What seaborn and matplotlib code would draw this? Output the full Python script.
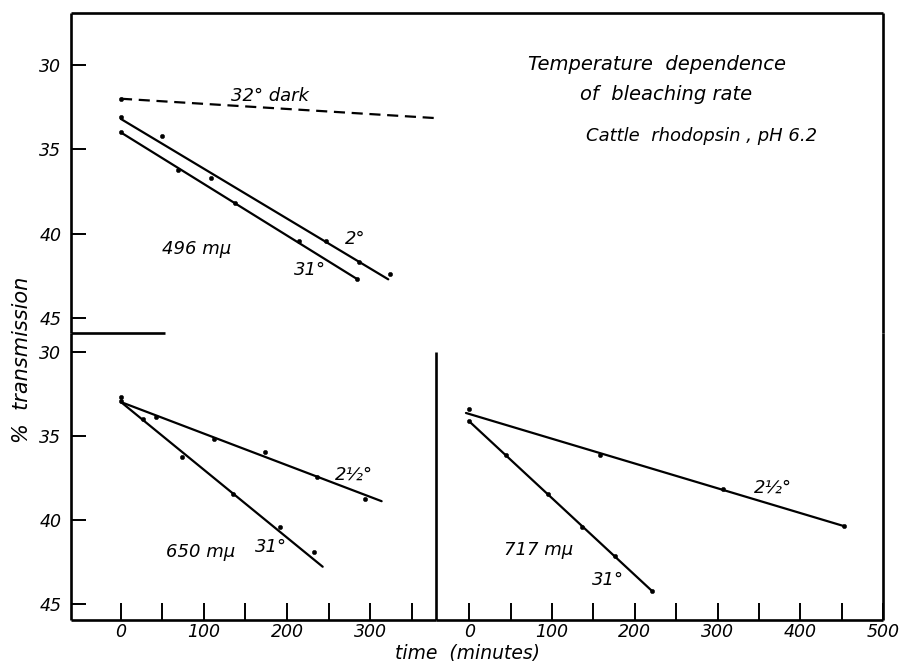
import numpy as np
import pandas as pd
import matplotlib
matplotlib.use("Agg")
import matplotlib.pyplot as plt
import seaborn as sns

# ---------------- data ----------------
# 496 mu (top panel)
top_2_t = [0, 49, 108, 247, 287, 324]
top_2_v = [33.1, 34.2, 36.7, 40.4, 41.7, 42.4]
top_2_fit_t = [0, 322]
top_2_fit_v = [33.2, 42.7]
top_31_t = [0, 69, 137, 214, 284]
top_31_v = [34.0, 36.2, 38.2, 40.4, 42.7]
top_31_fit_t = [0, 285]
top_31_fit_v = [34.0, 42.7]
dark_t = [0]
dark_v = [32.0]
dark_fit_t = [0, 380]
dark_fit_v = [32.0, 33.15]

# 650 mu (bottom left)
bl_25_t = [0, 0, 42, 112, 174, 236, 294]
bl_25_v = [32.7, 32.95, 33.9, 35.2, 35.95, 37.45, 38.75]
bl_25_fit_t = [0, 314]
bl_25_fit_v = [33.0, 38.9]
bl_31_t = [27, 73, 135, 191, 233]
bl_31_v = [34.0, 36.25, 38.45, 40.45, 41.95]
bl_31_fit_t = [0, 243]
bl_31_fit_v = [33.0, 42.8]

# 717 mu (bottom right)
br_25_t = [0, 158, 307, 453]
br_25_v = [33.4, 36.15, 38.15, 40.4]
br_25_fit_t = [-4, 454]
br_25_fit_v = [33.65, 40.4]
br_31_t = [0, 44, 95, 136, 176, 221]
br_31_v = [34.15, 36.15, 38.45, 40.45, 42.15, 44.25]
br_31_fit_t = [0, 221]
br_31_fit_v = [34.15, 44.25]

y_ticks = [30, 35, 40, 45]
bl_xticks = [0, 50, 100, 150, 200, 250, 300, 350]
bl_xlabels = ["0", "", "100", "", "200", "", "300", ""]
br_xticks = [0, 50, 100, 150, 200, 250, 300, 350, 400, 450, 500]
br_xlabels = ["0", "", "100", "", "200", "", "300", "", "400", "", "500"]

# ---------------- style ----------------
sns.set_style("white")
plt.rcParams["font.family"] = ["DejaVu Sans"]
plt.rcParams["font.style"] = "italic"
plt.rcParams["text.color"] = "black"
plt.rcParams["axes.labelcolor"] = "black"
plt.rcParams["xtick.color"] = "black"
plt.rcParams["ytick.color"] = "black"

W, H = 909, 661
fig = plt.figure(figsize=(W / 100, H / 100), dpi=100)

def fx(px):
    return px / W

def fy(py):
    return 1 - py / H

ax_top = fig.add_axes([fx(71), fy(333), fx(883) - fx(71), fy(13) - fy(333)])
ax_bl = fig.add_axes([fx(71), fy(620), fx(436) - fx(71), fy(333) - fy(620)])
ax_br = fig.add_axes([fx(436), fy(620), fx(883) - fx(436), fy(333) - fy(620)])

LW = 1.6
SPW = 1.9
MS = 10
TICKFS = 12.5
LABFS = 13

def draw(ax, t, v, ft, fv, ls="-", dashes=None):
    df_fit = pd.DataFrame({"t": ft, "v": fv})
    sns.lineplot(data=df_fit, x="t", y="v", ax=ax, color="black", lw=LW,
                 linestyle=ls, estimator=None, sort=False)
    if dashes is not None:
        ax.lines[-1].set_dashes(dashes)
    df_pts = pd.DataFrame({"t": t, "v": v})
    sns.scatterplot(data=df_pts, x="t", y="v", ax=ax, color="black", s=MS,
                    edgecolor="black", linewidth=0.3, zorder=5)

# top panel
draw(ax_top, dark_t, dark_v, dark_fit_t, dark_fit_v, ls="--", dashes=(5, 3))
draw(ax_top, top_2_t, top_2_v, top_2_fit_t, top_2_fit_v)
draw(ax_top, top_31_t, top_31_v, top_31_fit_t, top_31_fit_v)
ax_top.set_xlim(-60.2, 918)
ax_top.set_ylim(45.88, 26.92)

# bottom left
draw(ax_bl, bl_25_t, bl_25_v, bl_25_fit_t, bl_25_fit_v)
draw(ax_bl, bl_31_t, bl_31_v, bl_31_fit_t, bl_31_fit_v)
ax_bl.set_xlim(-60.2, 379.5)
ax_bl.set_ylim(45.97, 28.89)

# bottom right
draw(ax_br, br_25_t, br_25_v, br_25_fit_t, br_25_fit_v)
draw(ax_br, br_31_t, br_31_v, br_31_fit_t, br_31_fit_v)
ax_br.set_xlim(-40.2, 500)
ax_br.set_ylim(45.97, 28.89)

for ax in (ax_top, ax_bl, ax_br):
    ax.set_xlabel("")
    ax.set_ylabel("")
    ax.set_facecolor("none")
    for s in ax.spines.values():
        s.set_color("black")
        s.set_linewidth(SPW)
        s.set_capstyle("butt")

# top spines
ax_top.spines["bottom"].set_bounds(-60.2, 53)
ax_top.set_xticks([])
ax_top.set_yticks(y_ticks)
ax_top.set_yticklabels([str(v) for v in y_ticks])
ax_top.tick_params(axis="y", direction="in", length=11, width=1.4, pad=7,
                   labelsize=TICKFS, left=True, right=False)

# bottom left spines
ax_bl.spines["top"].set_visible(False)
ax_bl.spines["right"].set_bounds(30.0, 45.97)
ax_bl.set_yticks(y_ticks)
ax_bl.set_yticklabels([str(v) for v in y_ticks])
ax_bl.set_xticks(bl_xticks)
ax_bl.set_xticklabels(bl_xlabels)
ax_bl.tick_params(axis="y", direction="in", length=11, width=1.4, pad=7,
                  labelsize=TICKFS, left=True, right=False)
ax_bl.tick_params(axis="x", direction="in", length=12, width=1.4, pad=2,
                  labelsize=TICKFS, bottom=True)

# bottom right spines
ax_br.spines["top"].set_visible(False)
ax_br.spines["left"].set_visible(False)
ax_br.set_yticks([])
ax_br.set_xticks(br_xticks)
ax_br.set_xticklabels(br_xlabels)
ax_br.tick_params(axis="x", direction="in", length=12, width=1.4, pad=2,
                  labelsize=TICKFS, bottom=True)

for ax in (ax_top, ax_bl, ax_br):
    for lab in ax.get_xticklabels() + ax.get_yticklabels():
        lab.set_fontstyle("italic")
        lab.set_color("black")

# annotations
tk = dict(fontsize=LABFS, style="italic", ha="center", va="center", color="black")
ax_top.text(179.5, 31.84, "32° dark", **tk)
ax_top.text(91.6, 40.9, "496 mμ", **tk)
ax_top.text(282, 40.3, "2°", **tk)
ax_top.text(228, 42.15, "31°", **tk)

ax_bl.text(96, 41.9, "650 mμ", **tk)
ax_bl.text(181, 41.6, "31°", **tk)
ax_bl.text(281, 37.3, "2½°", **tk)

ax_br.text(83.8, 41.83, "717 mμ", **tk)
ax_br.text(168, 43.6, "31°", **tk)
ax_br.text(367, 38.1, "2½°", **tk)

fig.text(fx(657), fy(64), "Temperature  dependence", fontsize=14, style="italic",
         ha="center", va="center", color="black")
fig.text(fx(666), fy(95), "of  bleaching rate", fontsize=14, style="italic",
         ha="center", va="center", color="black")
fig.text(fx(702), fy(136), "Cattle  rhodopsin , pH 6.2", fontsize=13, style="italic",
         ha="center", va="center", color="black")

fig.text(fx(467), fy(653), "time  (minutes)", fontsize=13.5, style="italic",
         ha="center", va="center", color="black")
fig.text(fx(22), fy(360), "%  transmission", fontsize=15, style="italic",
         ha="center", va="center", rotation=90, color="black")

fig.savefig("out.png", dpi=100, facecolor="white")
